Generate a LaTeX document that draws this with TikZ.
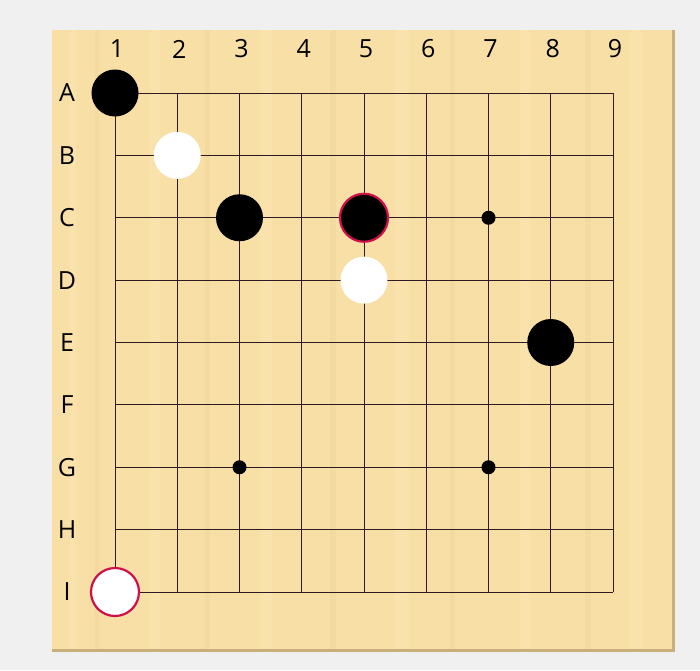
\documentclass[tikz,border=0pt]{standalone}
\usepackage{fontspec}
\setmainfont{Open Sans}
\definecolor{bgc}{HTML}{F0F0F0}
\definecolor{wood}{HTML}{F8DFA5}
\definecolor{woodlight}{HTML}{FCE9B8}
\definecolor{wooddark}{HTML}{F0D294}
\definecolor{woodedge}{HTML}{C9B07A}
\definecolor{gridc}{HTML}{2E1A22}
\definecolor{ringc}{HTML}{D0104A}
\tikzset{
  gridline/.style={draw=gridc, line width=0.9pt},
  blackstone/.style={circle, fill=black, minimum size=47pt, inner sep=0pt},
  whitestone/.style={circle, fill=white, minimum size=47pt, inner sep=0pt},
  lastmove/.style={draw=ringc, line width=2.2pt, minimum size=48pt},
  starpt/.style={circle, fill=black, minimum size=14pt, inner sep=0pt},
  coordlabel/.style={font=\fontsize{25}{25}\selectfont, text=black, inner sep=0pt}
}
\begin{document}
\begin{tikzpicture}[x=1pt,y=-1pt]
\useasboundingbox (0,0) rectangle (700,670);
\fill[bgc] (0,0) rectangle (700,670);
% board
\fill[woodedge] (52,30) rectangle (675,652);
\fill[wood] (52,30) rectangle (672,649);
\foreach \sx/\sw/\sc in {70/6/woodlight, 95/4/wooddark, 150/10/woodlight, 205/5/wooddark, 260/12/woodlight, 330/6/wooddark, 395/14/woodlight, 450/5/wooddark, 520/10/woodlight, 585/6/wooddark, 630/12/woodlight}{
  \fill[\sc, opacity=0.35] (\sx,30) rectangle (\sx+\sw,649);
}
% grid
\foreach \i in {0,...,8}{
  \draw[gridline] (115+\i*62.25,93) -- (115+\i*62.25,592);
  \draw[gridline] (115,93+\i*62.375) -- (613,93+\i*62.375);
}
% labels
\foreach \n [count=\i from 0] in {1,...,9}{
  \node[coordlabel] (col\n) at (117+\i*62.25,49) {\n};
}
\foreach \r [count=\i from 0] in {A,B,C,D,E,F,G,H,I}{
  \node[coordlabel] (row\r) at (67,93+\i*62.375) {\r};
}
% star points
\node[starpt] (C7) at (115+6*62.25,93+2*62.375) {};
\node[starpt] (G3) at (115+2*62.25,93+6*62.375) {};
\node[starpt] (G7) at (115+6*62.25,93+6*62.375) {};
% stones
\node[blackstone] (A1) at (115,93) {};
\node[whitestone] (B2) at (115+62.25,93+62.375) {};
\node[blackstone] (C3) at (115+2*62.25,93+2*62.375) {};
\node[blackstone, lastmove] (C5) at (115+4*62.25,93+2*62.375) {};
\node[whitestone] (D5) at (115+4*62.25,93+3*62.375) {};
\node[blackstone] (E8) at (115+7*62.25,93+4*62.375) {};
\node[whitestone, lastmove] (I1) at (115,93+8*62.375) {};
\end{tikzpicture}
\end{document}
